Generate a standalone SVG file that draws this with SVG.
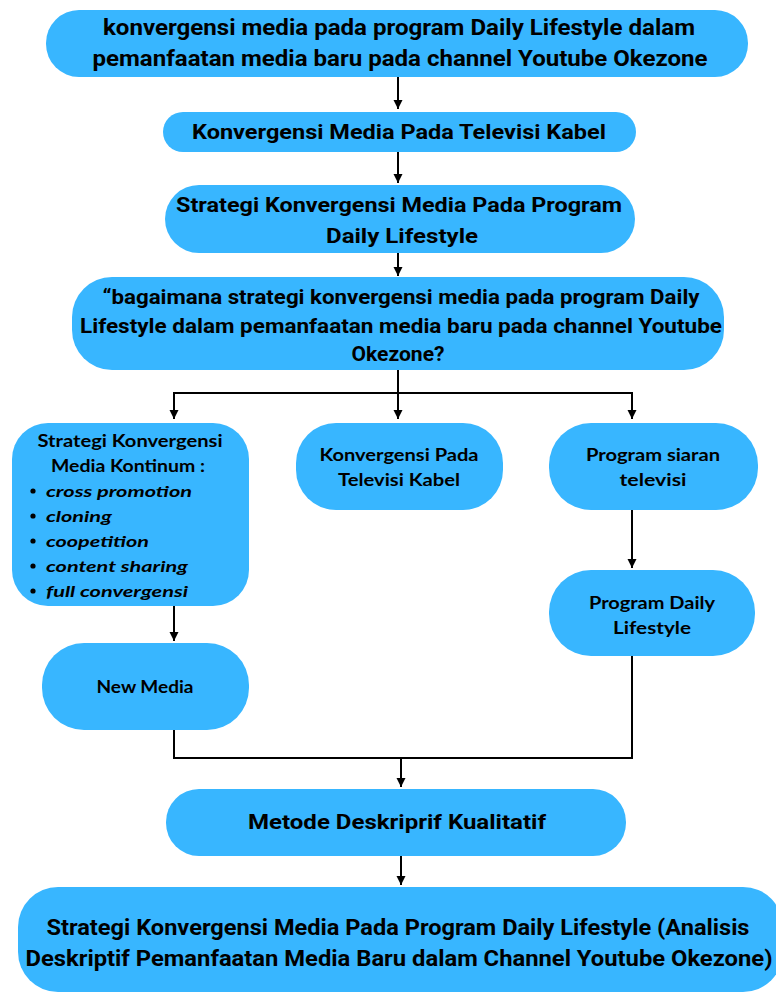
<svg xmlns="http://www.w3.org/2000/svg" width="776" height="992" viewBox="0 0 776 992">
<defs>
<marker id="a" markerWidth="10" markerHeight="10" refX="9" refY="5" orient="auto" markerUnits="userSpaceOnUse" viewBox="0 0 10 10">
<path d="M0,0.5 L9,5 L0,9.5 Z" fill="#000"/>
</marker>
</defs>
<style>
.box{fill:#38b6ff;}
.t{font-family:"Lato","Open Sans","Liberation Sans",sans-serif;font-weight:bold;fill:#000;text-anchor:middle;}
.c{font-family:"Roboto","Liberation Sans",sans-serif;font-weight:bold;fill:#000;text-anchor:middle;}
.i{font-family:"Lato","Open Sans","Liberation Sans",sans-serif;font-weight:bold;font-style:italic;fill:#000;font-size:16px;}
.ln{fill:none;stroke:#000;stroke-width:2;}
</style>
<rect width="776" height="992" fill="#fff"/>

<g id="connectors">
<path class="ln" d="M398,77 V109" marker-end="url(#a)"/>
<path class="ln" d="M398,152 V183" marker-end="url(#a)"/>
<path class="ln" d="M398,253 V276" marker-end="url(#a)"/>
<path class="ln" d="M398,370 V419" marker-end="url(#a)"/>
<path class="ln" d="M173,393 H633"/>
<path class="ln" d="M632,393 V419" marker-end="url(#a)"/>
<path class="ln" d="M174,393 V419" marker-end="url(#a)"/>
<path class="ln" d="M632,510 V568" marker-end="url(#a)"/>
<path class="ln" d="M174,606 V641" marker-end="url(#a)"/>
<path class="ln" d="M174,730 V758 H632 V656"/>
<path class="ln" d="M401,758 V787" marker-end="url(#a)"/>
<path class="ln" d="M401,856 V885" marker-end="url(#a)"/>
</g>

<g id="n1">
<rect class="box" x="46" y="10" width="702" height="67" rx="33"/>
<text class="c" x="399" y="35" font-size="22" textLength="592" lengthAdjust="spacingAndGlyphs">konvergensi media pada program Daily Lifestyle dalam</text>
<text class="c" x="400" y="66" font-size="22" textLength="615" lengthAdjust="spacingAndGlyphs">pemanfaatan media baru pada channel Youtube Okezone</text>
</g>

<g id="n2">
<rect class="box" x="163" y="112" width="473" height="40" rx="20"/>
<text class="c" x="399" y="139" font-size="20.5" textLength="414" lengthAdjust="spacingAndGlyphs">Konvergensi Media Pada Televisi Kabel</text>
</g>

<g id="n3">
<rect class="box" x="165" y="185" width="470" height="68" rx="34"/>
<text class="c" x="399" y="212" font-size="20.5" textLength="446" lengthAdjust="spacingAndGlyphs">Strategi Konvergensi Media Pada Program</text>
<text class="c" x="402" y="243" font-size="20.5" textLength="152" lengthAdjust="spacingAndGlyphs">Daily Lifestyle</text>
</g>

<g id="n4">
<rect class="box" x="72" y="277" width="652" height="93" rx="40"/>
<text class="c" x="401" y="304" font-size="20.5" textLength="597" lengthAdjust="spacingAndGlyphs">“bagaimana strategi konvergensi media pada program Daily</text>
<text class="c" x="401" y="333" font-size="20.5" textLength="642" lengthAdjust="spacingAndGlyphs">Lifestyle dalam pemanfaatan media baru pada channel Youtube</text>
<text class="c" x="398" y="361" font-size="20.5" textLength="93" lengthAdjust="spacingAndGlyphs">Okezone?</text>
</g>

<g id="n5">
<rect class="box" x="12" y="423" width="237" height="183" rx="36"/>
<text class="t" x="130" y="447" font-size="16.5" textLength="185" lengthAdjust="spacingAndGlyphs">Strategi Konvergensi</text>
<text class="t" x="128" y="472" font-size="16.5" textLength="154" lengthAdjust="spacingAndGlyphs">Media Kontinum :</text>
<g>
<circle cx="33" cy="491" r="2.6"/>
<circle cx="33" cy="516" r="2.6"/>
<circle cx="33" cy="541" r="2.6"/>
<circle cx="33" cy="566" r="2.6"/>
<circle cx="33" cy="591" r="2.6"/>
</g>
<text class="i" x="46" y="497" textLength="146" lengthAdjust="spacingAndGlyphs">cross promotion</text>
<text class="i" x="46" y="522" textLength="66" lengthAdjust="spacingAndGlyphs">cloning</text>
<text class="i" x="46" y="547" textLength="103" lengthAdjust="spacingAndGlyphs">coopetition</text>
<text class="i" x="46" y="572" textLength="142" lengthAdjust="spacingAndGlyphs">content sharing</text>
<text class="i" x="46" y="597" textLength="142" lengthAdjust="spacingAndGlyphs">full convergensi</text>
</g>

<g id="n6">
<rect class="box" x="296" y="423" width="207" height="87" rx="40"/>
<text class="t" x="399" y="461" font-size="16.5" textLength="159" lengthAdjust="spacingAndGlyphs">Konvergensi Pada</text>
<text class="t" x="399" y="486" font-size="16.5" textLength="122" lengthAdjust="spacingAndGlyphs">Televisi Kabel</text>
</g>

<g id="n7">
<rect class="box" x="549" y="423" width="209" height="87" rx="42"/>
<text class="t" x="653" y="461" font-size="16.5" textLength="134" lengthAdjust="spacingAndGlyphs">Program siaran</text>
<text class="t" x="653" y="486" font-size="16.5" textLength="67" lengthAdjust="spacingAndGlyphs">televisi</text>
</g>

<g id="n8">
<rect class="box" x="549" y="570" width="206" height="86" rx="42"/>
<text class="t" x="652" y="609" font-size="16.5" textLength="126" lengthAdjust="spacingAndGlyphs">Program Daily</text>
<text class="t" x="652" y="634" font-size="16.5" textLength="78" lengthAdjust="spacingAndGlyphs">Lifestyle</text>
</g>

<g id="n9">
<rect class="box" x="42" y="643" width="207" height="87" rx="42"/>
<text class="t" x="145" y="693" font-size="16.5" textLength="97" lengthAdjust="spacingAndGlyphs">New Media</text>
</g>

<g id="n10">
<rect class="box" x="166" y="789" width="460" height="67" rx="33"/>
<text class="c" x="397" y="829" font-size="20.5" textLength="298" lengthAdjust="spacingAndGlyphs">Metode Deskriprif Kualitatif</text>
</g>

<g id="n11">
<rect class="box" x="18" y="887" width="765" height="105" rx="40"/>
<text class="c" x="398" y="935" font-size="21.5" textLength="703" lengthAdjust="spacingAndGlyphs">Strategi Konvergensi Media Pada Program Daily Lifestyle (Analisis</text>
<text class="c" x="399" y="966" font-size="21.5" textLength="747" lengthAdjust="spacingAndGlyphs">Deskriptif Pemanfaatan Media Baru dalam Channel Youtube Okezone)</text>
</g>
</svg>
